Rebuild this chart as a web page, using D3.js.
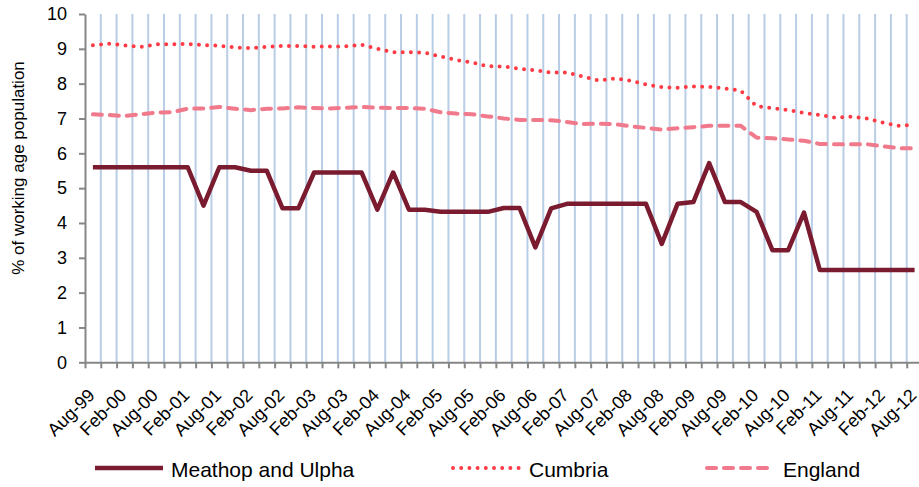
<!DOCTYPE html>
<html>
<head>
<meta charset="utf-8">
<script src="https://cdn.jsdelivr.net/npm/d3@7"></script>
<style>
	body { margin: 0; background: #fff; }
	svg { font-family: "Liberation Sans", Arial, sans-serif; }
</style>
</head>
<body>
<svg id="chart" width="919" height="487"></svg>
<script>
// Quarterly categories, Aug-99 to Aug-12
const quarters = [
	"Aug-99","Nov-99",
	"Feb-00","May-00","Aug-00","Nov-00",
	"Feb-01","May-01","Aug-01","Nov-01",
	"Feb-02","May-02","Aug-02","Nov-02",
	"Feb-03","May-03","Aug-03","Nov-03",
	"Feb-04","May-04","Aug-04","Nov-04",
	"Feb-05","May-05","Aug-05","Nov-05",
	"Feb-06","May-06","Aug-06","Nov-06",
	"Feb-07","May-07","Aug-07","Nov-07",
	"Feb-08","May-08","Aug-08","Nov-08",
	"Feb-09","May-09","Aug-09","Nov-09",
	"Feb-10","May-10","Aug-10","Nov-10",
	"Feb-11","May-11","Aug-11","Nov-11",
	"Feb-12","May-12","Aug-12"
];

// Only every second quarter gets a label
const tickLabels = [
	"Aug-99","Feb-00","Aug-00","Feb-01","Aug-01","Feb-02","Aug-02","Feb-03","Aug-03",
	"Feb-04","Aug-04","Feb-05","Aug-05","Feb-06","Aug-06","Feb-07","Aug-07","Feb-08",
	"Aug-08","Feb-09","Aug-09","Feb-10","Aug-10","Feb-11","Aug-11","Feb-12","Aug-12"
];

const meathop = [
	5.6, 5.6, 5.6, 5.6, 5.6, 5.6, 5.6, 4.5, 5.6, 5.6,
	5.5, 5.5, 4.42, 4.42, 5.45, 5.45, 5.45, 5.45, 4.38, 5.45,
	4.38, 4.38, 4.32, 4.32, 4.32, 4.32, 4.43, 4.43, 3.3, 4.42,
	4.55, 4.55, 4.55, 4.55, 4.55, 4.55, 3.4, 4.55, 4.6, 5.72,
	4.6, 4.6, 4.32, 3.22, 3.22, 4.3, 2.65, 2.65, 2.65, 2.65,
	2.65, 2.65, 2.65
];

const cumbria = [
	9.1, 9.15, 9.1, 9.05, 9.13, 9.13, 9.14, 9.11, 9.09, 9.04,
	9.02, 9.06, 9.08, 9.08, 9.06, 9.07, 9.07, 9.12, 9.0, 8.9,
	8.9, 8.89, 8.78, 8.68, 8.61, 8.5, 8.49, 8.43, 8.38, 8.32,
	8.32, 8.21, 8.09, 8.15, 8.09, 7.98, 7.9, 7.88, 7.92, 7.91,
	7.86, 7.8, 7.35, 7.3, 7.24, 7.16, 7.1, 7.02, 7.05, 7.0,
	6.88, 6.79, 6.82
];

const england = [
	7.12, 7.1, 7.07, 7.12, 7.17, 7.18, 7.28, 7.29, 7.33, 7.28,
	7.24, 7.28, 7.29, 7.32, 7.3, 7.29, 7.31, 7.33, 7.31, 7.3,
	7.3, 7.28, 7.18, 7.14, 7.12, 7.06, 7.0, 6.96, 6.96, 6.95,
	6.9, 6.84, 6.85, 6.84, 6.78, 6.73, 6.68, 6.72, 6.75, 6.79,
	6.79, 6.79, 6.45, 6.43, 6.4, 6.36, 6.27, 6.26, 6.26, 6.26,
	6.2, 6.15, 6.14
];

const seriesNames = ["Meathop and Ulpha", "Cumbria", "England"];
const yTicks = [0, 1, 2, 3, 4, 5, 6, 7, 8, 9, 10];

const colors = {
	meathop: "#7a1b30",
	cumbria: "#ff3c46",
	england: "#f07a8c",
	grid: "#b9cde5",
	axis: "#868686",
	text: "#000"
};

const plot = { left: 85, right: 922.5, top: 14, bottom: 362.3 };

const svg = d3.select("#chart");

// Scales: band for the categories, linear for the category boundaries
const x = d3.scaleBand()
	.domain(quarters)
	.range([plot.left, plot.right])
	.padding(0);
const xEdge = d3.scaleLinear()
	.domain([0, quarters.length])
	.range([plot.left, plot.right]);
const y = d3.scaleLinear()
	.domain([0, 10])
	.range([plot.bottom, plot.top]);

const cx = q => x(q) + x.bandwidth() / 2;

// Vertical gridlines between categories
svg.append("g")
	.attr("class", "grid")
	.selectAll("line")
	.data(d3.range(1, quarters.length + 1))
	.join("line")
		.attr("x1", d => xEdge(d))
		.attr("x2", d => xEdge(d))
		.attr("y1", plot.top)
		.attr("y2", plot.bottom)
		.attr("stroke", colors.grid)
		.attr("stroke-width", 2);

// Y axis
const yAxis = svg.append("g")
	.attr("transform", "translate(" + plot.left + ",0)")
	.call(d3.axisLeft(y).tickValues(yTicks).tickSize(6).tickPadding(12).tickSizeOuter(0));
yAxis.select(".domain").attr("stroke", colors.axis).attr("stroke-width", 2);
yAxis.selectAll(".tick line").attr("stroke", colors.axis).attr("stroke-width", 2);
yAxis.selectAll("text")
	.style("font-size", "18px")
	.attr("fill", colors.text);

// X axis line with a tick at every category boundary
const xAxis = svg.append("g")
	.attr("transform", "translate(0," + plot.bottom + ")")
	.call(d3.axisBottom(xEdge).tickValues(d3.range(0, quarters.length + 1)).tickSize(6).tickSizeOuter(0).tickFormat(""));
xAxis.select(".domain").attr("stroke", colors.axis).attr("stroke-width", 2);
xAxis.selectAll(".tick line").attr("stroke", colors.axis).attr("stroke-width", 2);

// Rotated category labels
const xLabels = svg.append("g")
	.attr("transform", "translate(0," + plot.bottom + ")")
	.call(d3.axisBottom(x).tickValues(tickLabels).tickSize(0));
xLabels.select(".domain").remove();
xLabels.selectAll("text")
	.attr("x", 0)
	.attr("y", 0)
	.attr("dy", 0)
	.attr("transform", "translate(3,34)rotate(-45)")
	.style("text-anchor", "end")
	.style("font-size", "18px")
	.attr("fill", colors.text);

// Y axis title
svg.append("text")
	.attr("transform", "translate(24,168)rotate(-90)")
	.attr("text-anchor", "middle")
	.style("font-size", "17px")
	.attr("fill", colors.text)
	.text("% of working age population");

// Lines
const line = d3.line()
	.x((d, i) => cx(quarters[i]))
	.y(d => y(d));

svg.append("path")
	.datum(england)
	.attr("d", line)
	.attr("fill", "none")
	.attr("stroke", colors.england)
	.attr("stroke-width", 4)
	.attr("stroke-linecap", "round")
	.attr("stroke-dasharray", "9,8");

svg.append("path")
	.datum(cumbria)
	.attr("d", line)
	.attr("fill", "none")
	.attr("stroke", colors.cumbria)
	.attr("stroke-width", 4)
	.attr("stroke-linecap", "round")
	.attr("stroke-dasharray", "0,8.2");

svg.append("path")
	.datum(meathop)
	.attr("d", line)
	.attr("fill", "none")
	.attr("stroke", colors.meathop)
	.attr("stroke-width", 4.5)
	.attr("stroke-linejoin", "round");

// Legend
const legendItems = [
	{ name: seriesNames[0], x: 95, color: colors.meathop, width: 4.5, dash: null, cap: "butt" },
	{ name: seriesNames[1], x: 453, color: colors.cumbria, width: 4, dash: "0,8.2", cap: "round" },
	{ name: seriesNames[2], x: 707, color: colors.england, width: 4, dash: "9,8", cap: "round" }
];

const legend = svg.append("g")
	.attr("class", "legend")
	.selectAll("g")
	.data(legendItems)
	.join("g")
		.attr("transform", d => "translate(" + d.x + ",468)");

legend.append("line")
	.attr("x1", 0)
	.attr("x2", 68)
	.attr("stroke", d => d.color)
	.attr("stroke-width", d => d.width)
	.attr("stroke-linecap", d => d.cap)
	.attr("stroke-dasharray", d => d.dash);

legend.append("text")
	.attr("x", 76)
	.attr("y", 9)
	.style("font-size", "21px")
	.attr("fill", colors.text)
	.text(d => d.name);
</script>
</body>
</html>
